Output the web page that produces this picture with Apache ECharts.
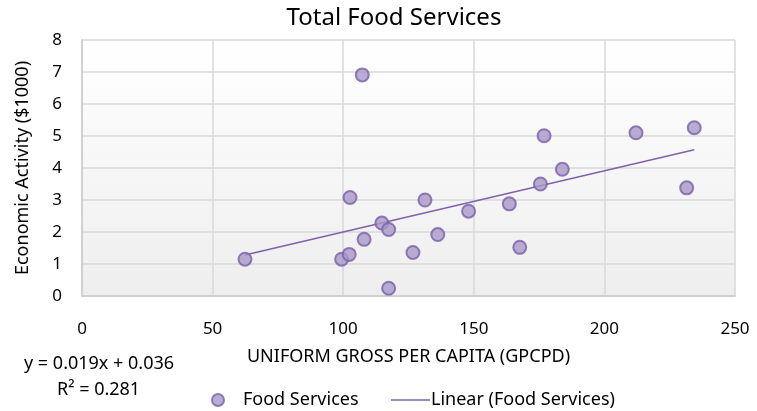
<!DOCTYPE html>
<html>
<head>
<meta charset="utf-8">
<script src="https://cdn.jsdelivr.net/npm/echarts@6/dist/echarts.min.js"></script>
<style>
  html, body { margin: 0; padding: 0; background: #fff; }
  #main { width: 757px; height: 411px; }
</style>
</head>
<body>
<div id="main"></div>
<script>
// values
const gpcpd = [62.4, 99.4, 102.3, 108, 102.6, 107.3, 114.8, 117.4, 117.4, 126.7, 131.3,
  136.2, 148, 163.6, 167.6, 175.5, 176.9, 183.9, 212.1, 231.5, 234.4];
const activity = [1.15, 1.15, 1.3, 1.77, 3.08, 6.91, 2.28, 2.08, 0.24, 1.36, 3.0,
  1.92, 2.65, 2.88, 1.52, 3.5, 5.01, 3.96, 5.1, 3.38, 5.26];
const trendX = [62.4, 234.4];
const trendY = [1.28, 4.57];
const xTicks = [0, 50, 100, 150, 200, 250];
const yTicks = [0, 1, 2, 3, 4, 5, 6, 7, 8];

const font = 'Noto Sans';
const chart = echarts.init(document.getElementById('main'));

const option = {
  animation: false,
  title: {
    text: 'Total Food Services',
    left: 389, top: 1, textAlign: 'center',
    textStyle: { fontFamily: font, fontSize: 24, fontWeight: 'normal', color: '#000' }
  },
  grid: {
    left: 82, right: 22, top: 40, bottom: 115,
    show: true, borderWidth: 0,
    backgroundColor: new echarts.graphic.LinearGradient(0, 0, 0, 1, [
      { offset: 0, color: '#ffffff' },
      { offset: 1, color: '#eeeeee' }
    ])
  },
  legend: [{
    data: ['Food Services'],
    left: 211, top: 391, padding: 0,
    itemWidth: 12, itemHeight: 12,
    textStyle: { fontFamily: font, fontSize: 18, color: '#000', padding: [0, 0, 0, 14] }
  }, {
    data: [{ name: 'Linear (Food Services)', icon: 'rect' }],
    left: 391, top: 391, padding: 0,
    itemWidth: 39, itemHeight: 1.5,
    textStyle: { fontFamily: font, fontSize: 18, color: '#000', padding: [0, 0, 0, -4] }
  }],
  xAxis: {
    type: 'value',
    min: xTicks[0], max: xTicks[xTicks.length - 1], interval: 50,
    name: 'UNIFORM GROSS PER CAPITA (GPCPD)',
    nameLocation: 'middle', nameGap: 52,
    nameTextStyle: { fontFamily: font, fontSize: 18, color: '#000' },
    axisLine: { show: true, lineStyle: { color: '#d0d0d0', width: 2 } },
    axisTick: { show: false },
    axisLabel: { margin: 25, fontFamily: font, fontSize: 17, color: '#000' },
    splitLine: { show: true, lineStyle: { color: '#d9d9d9', width: 1.5 } }
  },
  yAxis: {
    type: 'value',
    min: yTicks[0], max: yTicks[yTicks.length - 1], interval: 1,
    name: 'Economic Activity ($1000)',
    nameLocation: 'middle', nameGap: 50, nameRotate: 90,
    nameTextStyle: { fontFamily: font, fontSize: 18, color: '#000' },
    axisLine: { show: true, lineStyle: { color: '#d0d0d0', width: 2 } },
    axisTick: { show: false },
    axisLabel: { margin: 20, fontFamily: font, fontSize: 17, color: '#000' },
    splitLine: { show: true, lineStyle: { color: '#d9d9d9', width: 1.5 } }
  },
  series: [{
    name: 'Food Services',
    type: 'scatter',
    symbol: 'circle',
    symbolSize: 13,
    itemStyle: { color: '#a899c8', borderColor: '#7a5fa8', borderWidth: 2 },
    data: gpcpd.map((x, i) => [x, activity[i]]),
    z: 3
  }, {
    name: 'Linear (Food Services)',
    type: 'line',
    symbol: 'none',
    lineStyle: { color: '#7f62aa', width: 1.5 },
    itemStyle: { color: '#7f62aa' },
    data: trendX.map((x, i) => [x, trendY[i]]),
    z: 2
  }],
  graphic: [{
    type: 'text', left: 24, top: 355,
    style: { text: 'y = 0.019x + 0.036', fontFamily: font, fontSize: 18, fill: '#000' }
  }, {
    type: 'text', left: 57, top: 381,
    style: { text: 'R² = 0.281', fontFamily: font, fontSize: 18, fill: '#000' }
  }]
};
chart.setOption(option);
</script>
</body>
</html>
